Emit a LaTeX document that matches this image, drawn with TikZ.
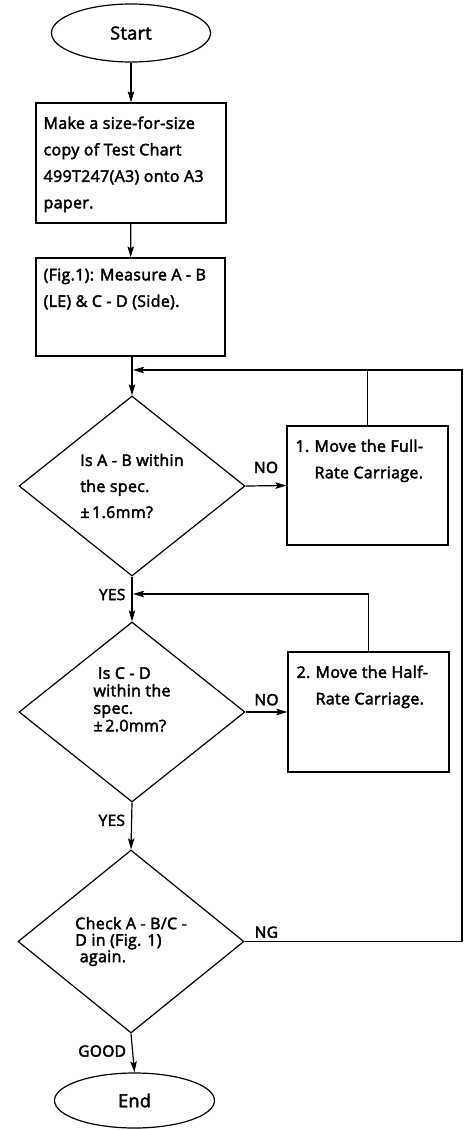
\documentclass[tikz,border=0pt]{standalone}
\usepackage{fontspec}
\setmainfont{Open Sans}[FakeBold=2.6, LetterSpace=2]
\usetikzlibrary{shapes.geometric, arrows.meta, positioning, calc}

\tikzset{
  flow/.style={line width=1.2pt, -{Stealth[length=11pt, width=6.5pt, inset=2pt]}},
  plain/.style={line width=1.2pt},
  terminal/.style={draw, line width=1.2pt, ellipse, minimum width=159pt, minimum height=58pt, font=\fontsize{18}{20}\selectfont},
  stepbox/.style={draw, line width=1.2pt, rectangle, inner sep=0pt},
  steptext/.style={anchor=north west, align=left, inner sep=0pt, font=\fontsize{16}{26.5}\selectfont},
  decision/.style={draw, line width=1.2pt, diamond, aspect=1.25, inner sep=0pt, minimum width=226pt, minimum height=180pt, align=left},
  answer/.style={font=\fontsize{15.5}{17}\selectfont, inner sep=2pt}
}

\begin{document}
\begin{tikzpicture}[x=1pt, y=-1pt]
  \useasboundingbox (0,0) rectangle (465,1130);

  % start and first two steps
  \node[terminal] (start) at (131,33) {Start};
  \node[stepbox, minimum width=190pt, minimum height=120pt] (copy) at (131,163) {};
  \node[steptext] (copytext) at ($(copy.north west)+(8,14)$) {Make a size-for-size\\copy of Test Chart\\499T247(A3) onto A3\\paper.};
  \node[stepbox, minimum width=189pt, minimum height=98pt] (measure) at (130.5,307) {};
  \node[steptext] (measuretext) at ($(measure.north west)+(8,11)$) {(Fig.1): Measure A - B\\(LE) \& C - D (Side).};

  % decisions
  \node[decision, font=\fontsize{16}{26}\selectfont] (checkab) at (132,486) {Is A - B within\\the spec.\\ \textpm\,1.6mm?};
  \node[decision, font=\fontsize{16}{17.5}\selectfont] (checkcd) at (132,712) {\ Is C - D\\within the\\spec.\\ \textpm\,2.0mm?\\[8pt]};
  \node[decision, minimum height=183pt, font=\fontsize{16}{16.5}\selectfont] (recheck) at (131,941.5) {Check A - B/C -\\D in (Fig. 1)\\ \ again.};

  % adjustments
  \node[stepbox, minimum width=161pt, minimum height=119pt] (fullrate) at (367.5,485.5) {};
  \node[steptext] (fulltext) at ($(fullrate.north west)+(9,14)$) {\makebox[19pt][l]{1.}Move the Full-\\\hspace*{19pt}Rate Carriage.};
  \node[stepbox, minimum width=161pt, minimum height=120pt] (halfrate) at (368.5,712) {};
  \node[steptext] (halftext) at ($(halfrate.north west)+(9,14)$) {\makebox[19pt][l]{2.}Move the Half-\\\hspace*{19pt}Rate Carriage.};

  \node[terminal, minimum width=160pt, minimum height=55pt] (finish) at (134.5,1100.5) {End};

  % loop points
  \coordinate (topjoin) at (133,370);
  \coordinate (fulljoin) at (fullrate.north |- topjoin);
  \coordinate (rightup) at (462,370);
  \coordinate (rightdown) at (462,941.5);
  \coordinate (midjoin) at (133,594);
  \coordinate (halfjoin) at (halfrate.north |- midjoin);

  % main line
  \draw[flow] (start) -- (copy);
  \draw[flow] (copy) -- (measure);
  \draw[flow] (measure.south -| checkab.north) -- (checkab.north);
  \draw[flow] (checkab.south) -- node[answer, left=4pt, pos=0.4] (yesab) {YES} (checkcd.north);
  \draw[flow] (checkcd.south) -- node[answer, left=4pt, pos=0.38] (yescd) {YES} (recheck.north);
  \draw[flow] (recheck.south) -- node[answer, left=4pt, pos=0.45] (good) {GOOD} (finish.north);

  % branches
  \draw[flow] (checkab.east) -- node[answer, above=10pt] (noab) {NO} (fullrate.west);
  \draw[flow] (checkcd.east) -- node[answer, above=4pt] (nocd) {NO} (halfrate.west);
  \draw[plain] (recheck.east) -- node[answer, above=1pt, pos=0.1] (ng) {NG} (rightdown) -- (rightup) -- (fulljoin);
  \draw[flow] (fulljoin) -- (topjoin);
  \draw[plain] (fullrate.north) -- (fulljoin);
  \draw[flow] (halfrate.north) -- (halfjoin) -- (midjoin);
\end{tikzpicture}
\end{document}
